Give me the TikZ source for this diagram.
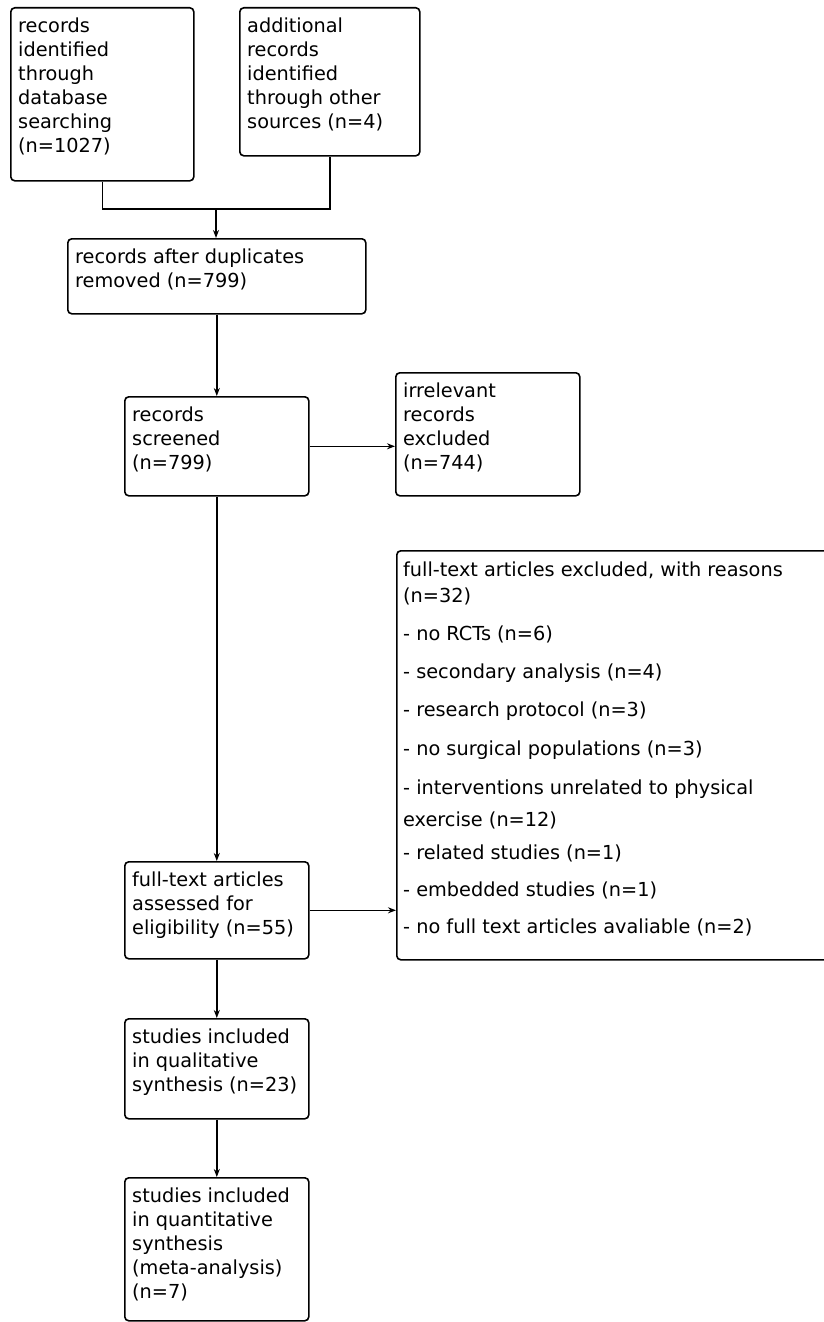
\documentclass[tikz,border=0pt]{standalone}
\usepackage{fontspec}
\setmainfont{DejaVu Sans}
\usetikzlibrary{arrows.meta}
\newcommand{\fsz}{\fontsize{19.3}{24}\selectfont}
\tikzset{
  box/.style={draw=black, line width=1.6pt, rounded corners=4pt, inner sep=0pt, anchor=north west},
  txt/.style={inner sep=0pt, align=left, anchor=north west, font=\fsz},
  lst/.style={inner sep=0pt, anchor=base west, font=\fsz},
  link/.style={draw=black, line width=1.6pt},
  arr/.style={link, -{Stealth[length=8pt,width=6pt]}}
}
\begin{document}
\begin{tikzpicture}[x=1pt,y=-1pt]
\useasboundingbox (0,0) rectangle (824,1322);
\clip (0,0) rectangle (824,1322);
% boxes
\node[box, minimum width=183pt, minimum height=173pt] (b1) at (10,7) {};
\node[box, minimum width=180pt, minimum height=148pt] (b2) at (239,7) {};
\node[box, minimum width=298pt, minimum height=75pt] (b3) at (67,238) {};
\node[box, minimum width=184pt, minimum height=99pt] (b4) at (124,396) {};
\node[box, minimum width=184pt, minimum height=123pt] (b5) at (395,372) {};
\node[box, minimum width=184pt, minimum height=97pt] (b6) at (124,861) {};
\node[box, minimum width=184pt, minimum height=100pt] (b7) at (124,1018) {};
\node[box, minimum width=184pt, minimum height=143pt] (b8) at (124,1177) {};
\node[box, minimum width=450pt, minimum height=409pt] (big) at (396,550) {};
% texts
\node[txt] (t1) at (18,15.7) {\strut records\\identified\\through\\database\\searching\\(n=1027)};
\node[txt] (t2) at (247,15.7) {\strut additional\\records\\identified\\through other\\sources (n=4)};
\node[txt] (t3) at (75,246.7) {\strut records after duplicates\\removed (n=799)};
\node[txt] (t4) at (132,404.7) {\strut records\\screened\\(n=799)};
\node[txt] (t5) at (403,380.7) {\strut irrelevant\\records\\excluded\\(n=744)};
\node[txt] (t6) at (132,869.7) {\strut full-text articles\\assessed for\\eligibility (n=55)};
\node[txt] (t7) at (132,1026.7) {\strut studies included\\in qualitative\\synthesis (n=23)};
\node[txt] (t8) at (132,1185.7) {\strut studies included\\in quantitative\\synthesis\\(meta-analysis)\\(n=7)};
% exclusion list
\node[lst] (l1) at (403,576) {full-text articles excluded, with reasons};
\node[lst] (l2) at (403,602) {(n=32)};
\node[lst] (l3) at (403,640.5) {- no RCTs (n=6)};
\node[lst] (l4) at (403,678.5) {- secondary analysis (n=4)};
\node[lst] (l5) at (403,716.5) {- research protocol (n=3)};
\node[lst] (l6) at (403,755.5) {- no surgical populations (n=3)};
\node[lst] (l7) at (403,794.5) {- interventions unrelated to physical};
\node[lst] (l8) at (403,826.5) {exercise (n=12)};
\node[lst] (l9) at (403,859.5) {- related studies (n=1)};
\node[lst] (l10) at (403,896.5) {- embedded studies (n=1)};
\node[lst] (l11) at (403,933.5) {- no full text articles avaliable (n=2)};
% connectors
\coordinate (j) at (216,209);
\draw[link] (b1.south) |- (j) -| (b2.south);
\draw[arr] (j) -- (j |- b3.north);
\draw[arr] (b3.south) -- (b4.north);
\draw[arr] (b4.east) -- (b4.east -| b5.west);
\draw[arr] (b4.south) -- (b6.north);
\draw[arr] (b6.east) -- (b6.east -| big.west);
\draw[arr] (b6.south) -- (b7.north);
\draw[arr] (b7.south) -- (b8.north);
\end{tikzpicture}
\end{document}
